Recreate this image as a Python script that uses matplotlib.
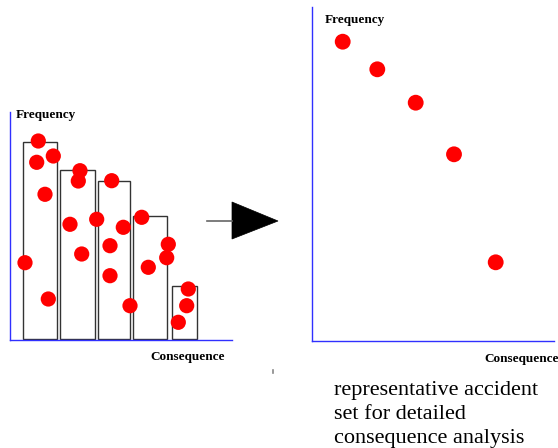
import matplotlib
matplotlib.use("Agg")
import matplotlib.pyplot as plt
from matplotlib.patches import Polygon

W, H = 558, 448
DPI = 100

# ---- data (schematic units: pixels from axis origin) ----
bin_left = [13.3, 50.0, 88.3, 123.3, 161.7]
bin_width = [33.4, 35.3, 31.7, 33.4, 25.0]
bin_height = [197.3, 169.3, 158.0, 122.7, 52.7]

acc_cons = [28.3, 43.3, 26.7, 35.0, 15.0, 38.3,
            70.0, 68.3, 60.0, 86.7, 71.7,
            101.7, 113.3, 100.0, 100.0, 120.0,
            131.7, 158.3, 156.7, 138.3,
            178.3, 176.7, 168.3]
acc_freq = [199.0, 184.0, 177.7, 145.7, 77.3, 41.0,
            169.3, 159.0, 115.7, 120.7, 86.0,
            159.3, 112.7, 94.3, 64.3, 34.3,
            122.7, 95.7, 82.3, 72.7,
            51.0, 34.3, 17.7]

rep_cons = [30.4, 65.0, 103.4, 141.7, 183.4]
rep_freq = [299.0, 271.4, 238.0, 186.4, 78.4]

x_label = "Consequence"
y_label = "Frequency"
caption = "representative accident\nset for detailed\nconsequence analysis"

fig = plt.figure(figsize=(W / DPI, H / DPI), dpi=DPI)
fig.patch.set_facecolor("white")

def px_axes(x0, y0, x1, y1):
    # x0,y0 = origin (image px, y from top); x1 = right, y1 = top
    return fig.add_axes([x0 / W, (H - y0) / H, (x1 - x0) / W, (y0 - y1) / H])

axis_color = "#3030ff"
serif = ["Liberation Serif", "DejaVu Serif"]

def style(ax, xmax, ymax):
    ax.set_xlim(0, xmax)
    ax.set_ylim(0, ymax)
    for s in ["top", "right"]:
        ax.spines[s].set_visible(False)
    for s in ["left", "bottom"]:
        ax.spines[s].set_color(axis_color)
        ax.spines[s].set_linewidth(1.0)
    ax.set_xticks([])
    ax.set_yticks([])
    ax.patch.set_alpha(0)

# left panel
axL = px_axes(10, 340, 232, 112)
style(axL, 222, 228)
axL.bar(bin_left, bin_height, width=bin_width, bottom=1, align="edge",
        facecolor="none", edgecolor="#333333", linewidth=1.0, zorder=2)
axL.scatter(acc_cons, acc_freq, s=120, color="#ff0000", edgecolors="none",
            zorder=3, clip_on=False)

# right panel
axR = px_axes(312.3, 340.7, 554, 7)
style(axR, 241.7, 333.7)
axR.scatter(rep_cons, rep_freq, s=130, color="#ff0000", edgecolors="none",
            zorder=3, clip_on=False)

# labels
lab_fs = 9.5
fig.text(16 / W, 1 - 115 / H, y_label, family=serif, fontweight="bold",
         fontsize=lab_fs, ha="left", va="center")
fig.text(150 / W, 1 - 356.5 / H, x_label, family=serif, fontweight="bold",
         fontsize=lab_fs, ha="left", va="center")
fig.text(324.3 / W, 1 - 20.5 / H, y_label, family=serif, fontweight="bold",
         fontsize=lab_fs, ha="left", va="center")
fig.text(484 / W, 1 - 359.3 / H, x_label, family=serif, fontweight="bold",
         fontsize=lab_fs, ha="left", va="center")

fig.text(334 / W, 1 - 380.5 / H, caption, family=serif, fontsize=16,
         ha="left", va="top", linespacing=1.36)

# arrow between panels
fig.add_artist(plt.Line2D([207 / W, 232 / W], [1 - 221 / H, 1 - 221 / H],
                          transform=fig.transFigure, color="#666666", lw=1.2))
fig.add_artist(Polygon([[232 / W, 1 - 202 / H], [232 / W, 1 - 239 / H],
                        [278 / W, 1 - 221 / H]], closed=True,
                       transform=fig.transFigure, facecolor="black",
                       edgecolor="black", lw=0.5))
# tiny stray mark
fig.add_artist(plt.Line2D([273 / W, 273 / W], [1 - 369.5 / H, 1 - 372.5 / H],
                          transform=fig.transFigure, color="#888888", lw=1.2))

fig.savefig("out.png", dpi=DPI, facecolor="white")
